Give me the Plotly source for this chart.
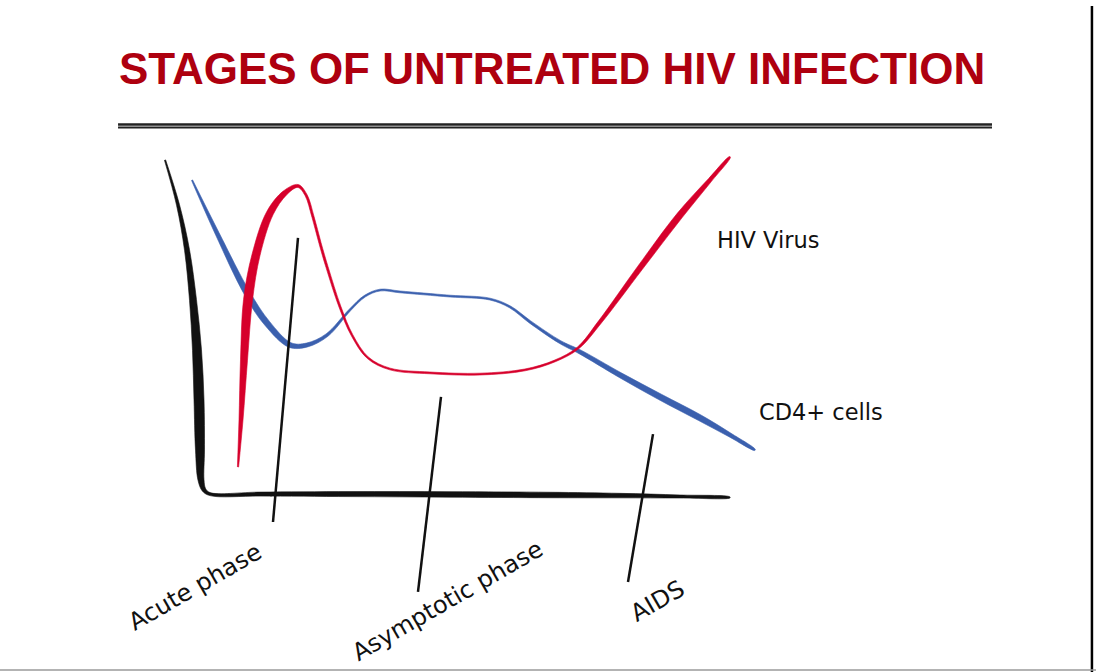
import math
import plotly.graph_objects as go

# ---- data (time units, level units) ----
hiv_time = [6.6, 7.2, 7.8, 8.6, 10.2, 13, 16, 18.6, 20.2, 21.6, 23, 24.4, 27, 29.4, 32.6,
            37, 45, 55, 64, 70, 74.6, 79, 87, 95, 101, 105]
hiv_level = [9.3, 25, 45, 65, 80, 94, 100.7, 103, 100, 92.7, 84, 76, 62.7, 53.3, 45.7,
             42, 40.7, 40.3, 41.7, 44.7, 49, 57.7, 75.7, 93.3, 105, 112.7]

cd4_time = [-2.6, 2.4, 8.4, 12.4, 17, 20.4, 24.4, 29, 32, 35, 39, 49, 57, 61, 65, 71, 75,
            83, 91, 99, 105, 110]
cd4_level = [105, 87.3, 67.3, 57.3, 50, 50, 53.3, 61.7, 66.3, 68.3, 67.7, 66.3, 65.3, 62.7,
             57.7, 51, 47.7, 40, 32.7, 25.7, 20, 15]

axis_time = [-8, -5.4, -3.6, -2.4, -1.6, -1.2, -1.0, -0.8, -0.2, 1, 11, 29, 49, 69, 83, 95, 105]
axis_level = [111.7, 96.7, 81.7, 65, 48.3, 31.7, 15, 5, 1.7, 0.3, 0.3, 0.3, 0.2, 0, -0.2, -0.5, -0.8]

stage_names = ["Acute phase", "Asymptotic phase", "AIDS"]
stage_top_time = [18.6, 47.2, 89.6]
stage_top_level = [85.7, 32.7, 20.3]
stage_bottom_time = [13.6, 42.6, 84.6]
stage_bottom_level = [-9, -32.3, -29]
stage_label_time = [-2, 48.4, 90.5]
stage_label_level = [-30.8, -35.3, -35.3]

series_names = ["HIV Virus", "CD4+ cells"]
series_label_time = [102, 110.4]
series_label_level = [85, 27.7]

title_text = "STAGES OF UNTREATED HIV INFECTION"

# ---- styles ----
RED = "#D6002B"
BLUE = "#3B60AE"
BLACK = "#111111"
# brush width (px) at each drawn point
hiv_widths = [1.2, 4, 7, 9, 8, 7, 5, 3, 2.2, 2.2, 2.2, 2.2, 2, 1.8, 1.8, 1.8, 1.8, 1.8, 1.8,
              1.8, 2.2, 3.5, 5.5, 6.5, 4, 1.2]
cd4_widths = [1.2, 4, 6, 6, 5, 4, 3, 2, 1.8, 1.8, 1.8, 1.8, 1.8, 2, 2.5, 3, 4, 5, 6, 6, 4, 1.2]
axis_widths = [1.2, 3, 5, 7, 9, 10, 9, 6, 4, 3, 4, 5, 5.5, 5.5, 4.5, 3, 1.0]

W, H = 1096, 672
X_RANGE = [-41, 178.2]
Y_RANGE = [-59, 165]
SX = W / (X_RANGE[1] - X_RANGE[0])   # px per time unit
SY = H / (Y_RANGE[1] - Y_RANGE[0])   # px per level unit

fig = go.Figure()


def add_brush(xs, ys, widths, color):
    """Tapered brush stroke: a filled ribbon around the drawn points."""
    n = len(xs)
    left, right = [], []
    for i in range(n):
        a, b = max(i - 1, 0), min(i + 1, n - 1)
        tx = (xs[b] - xs[a]) * SX
        ty = (ys[b] - ys[a]) * SY
        d = math.hypot(tx, ty) or 1.0
        nx, ny = -ty / d, tx / d
        h = widths[i] / 2.0
        left.append((xs[i] + nx * h / SX, ys[i] + ny * h / SY))
        right.append((xs[i] - nx * h / SX, ys[i] - ny * h / SY))
    poly = left + right[::-1]
    fig.add_trace(go.Scatter(
        x=[p[0] for p in poly], y=[p[1] for p in poly], mode="lines",
        fill="toself", fillcolor=color,
        line=dict(color=color, width=0.6, shape="spline", smoothing=1.0),
        hoverinfo="skip", showlegend=False))


add_brush(axis_time, axis_level, axis_widths, BLACK)
add_brush(cd4_time, cd4_level, cd4_widths, BLUE)
add_brush(hiv_time, hiv_level, hiv_widths, RED)

for i in range(len(stage_names)):
    fig.add_trace(go.Scatter(
        x=[stage_top_time[i], stage_bottom_time[i]],
        y=[stage_top_level[i], stage_bottom_level[i]],
        mode="lines", line=dict(color=BLACK, width=2.5),
        hoverinfo="skip", showlegend=False))
    fig.add_annotation(x=stage_label_time[i], y=stage_label_level[i], text=stage_names[i],
                       showarrow=False, textangle=-30, xanchor="center", yanchor="middle",
                       font=dict(family="DejaVu Sans", size=24, color="#111111"))

for i in range(len(series_names)):
    fig.add_annotation(x=series_label_time[i], y=series_label_level[i], text=series_names[i],
                       showarrow=False, xanchor="left", yanchor="middle",
                       font=dict(family="DejaVu Sans", size=22.5, color="#111111"))

fig.add_annotation(x=0.5032, y=0.8988, xref="paper", yref="paper",
                   text="<b>" + title_text + "</b>",
                   showarrow=False, xanchor="center", yanchor="middle",
                   font=dict(family="Liberation Sans, Arial, sans-serif",
                             size=44, color="#AE000F"))

# decorative rules / borders
fig.add_shape(type="line", xref="paper", yref="paper", x0=0.1077, x1=0.9051,
              y0=0.8147, y1=0.8147, line=dict(color="#222222", width=2.5))
fig.add_shape(type="line", xref="paper", yref="paper", x0=0.1077, x1=0.9051,
              y0=0.8103, y1=0.8103, line=dict(color="#222222", width=2))
fig.add_shape(type="line", xref="paper", yref="paper", x0=0.9963, x1=0.9963,
              y0=0.0, y1=0.991, line=dict(color="#000000", width=2.5))
fig.add_shape(type="line", xref="paper", yref="paper", x0=0, x1=1,
              y0=0.003, y1=0.003, line=dict(color="#9a9a9a", width=1.5))

fig.update_layout(
    width=W, height=H,
    margin=dict(l=0, r=0, t=0, b=0),
    paper_bgcolor="white", plot_bgcolor="white",
    showlegend=False,
    xaxis=dict(range=X_RANGE, visible=False, fixedrange=True),
    yaxis=dict(range=Y_RANGE, visible=False, fixedrange=True),
)

fig.write_html("out.html", config={"displayModeBar": False},
               post_script="document.body.style.margin='0';document.body.style.overflow='hidden';")
